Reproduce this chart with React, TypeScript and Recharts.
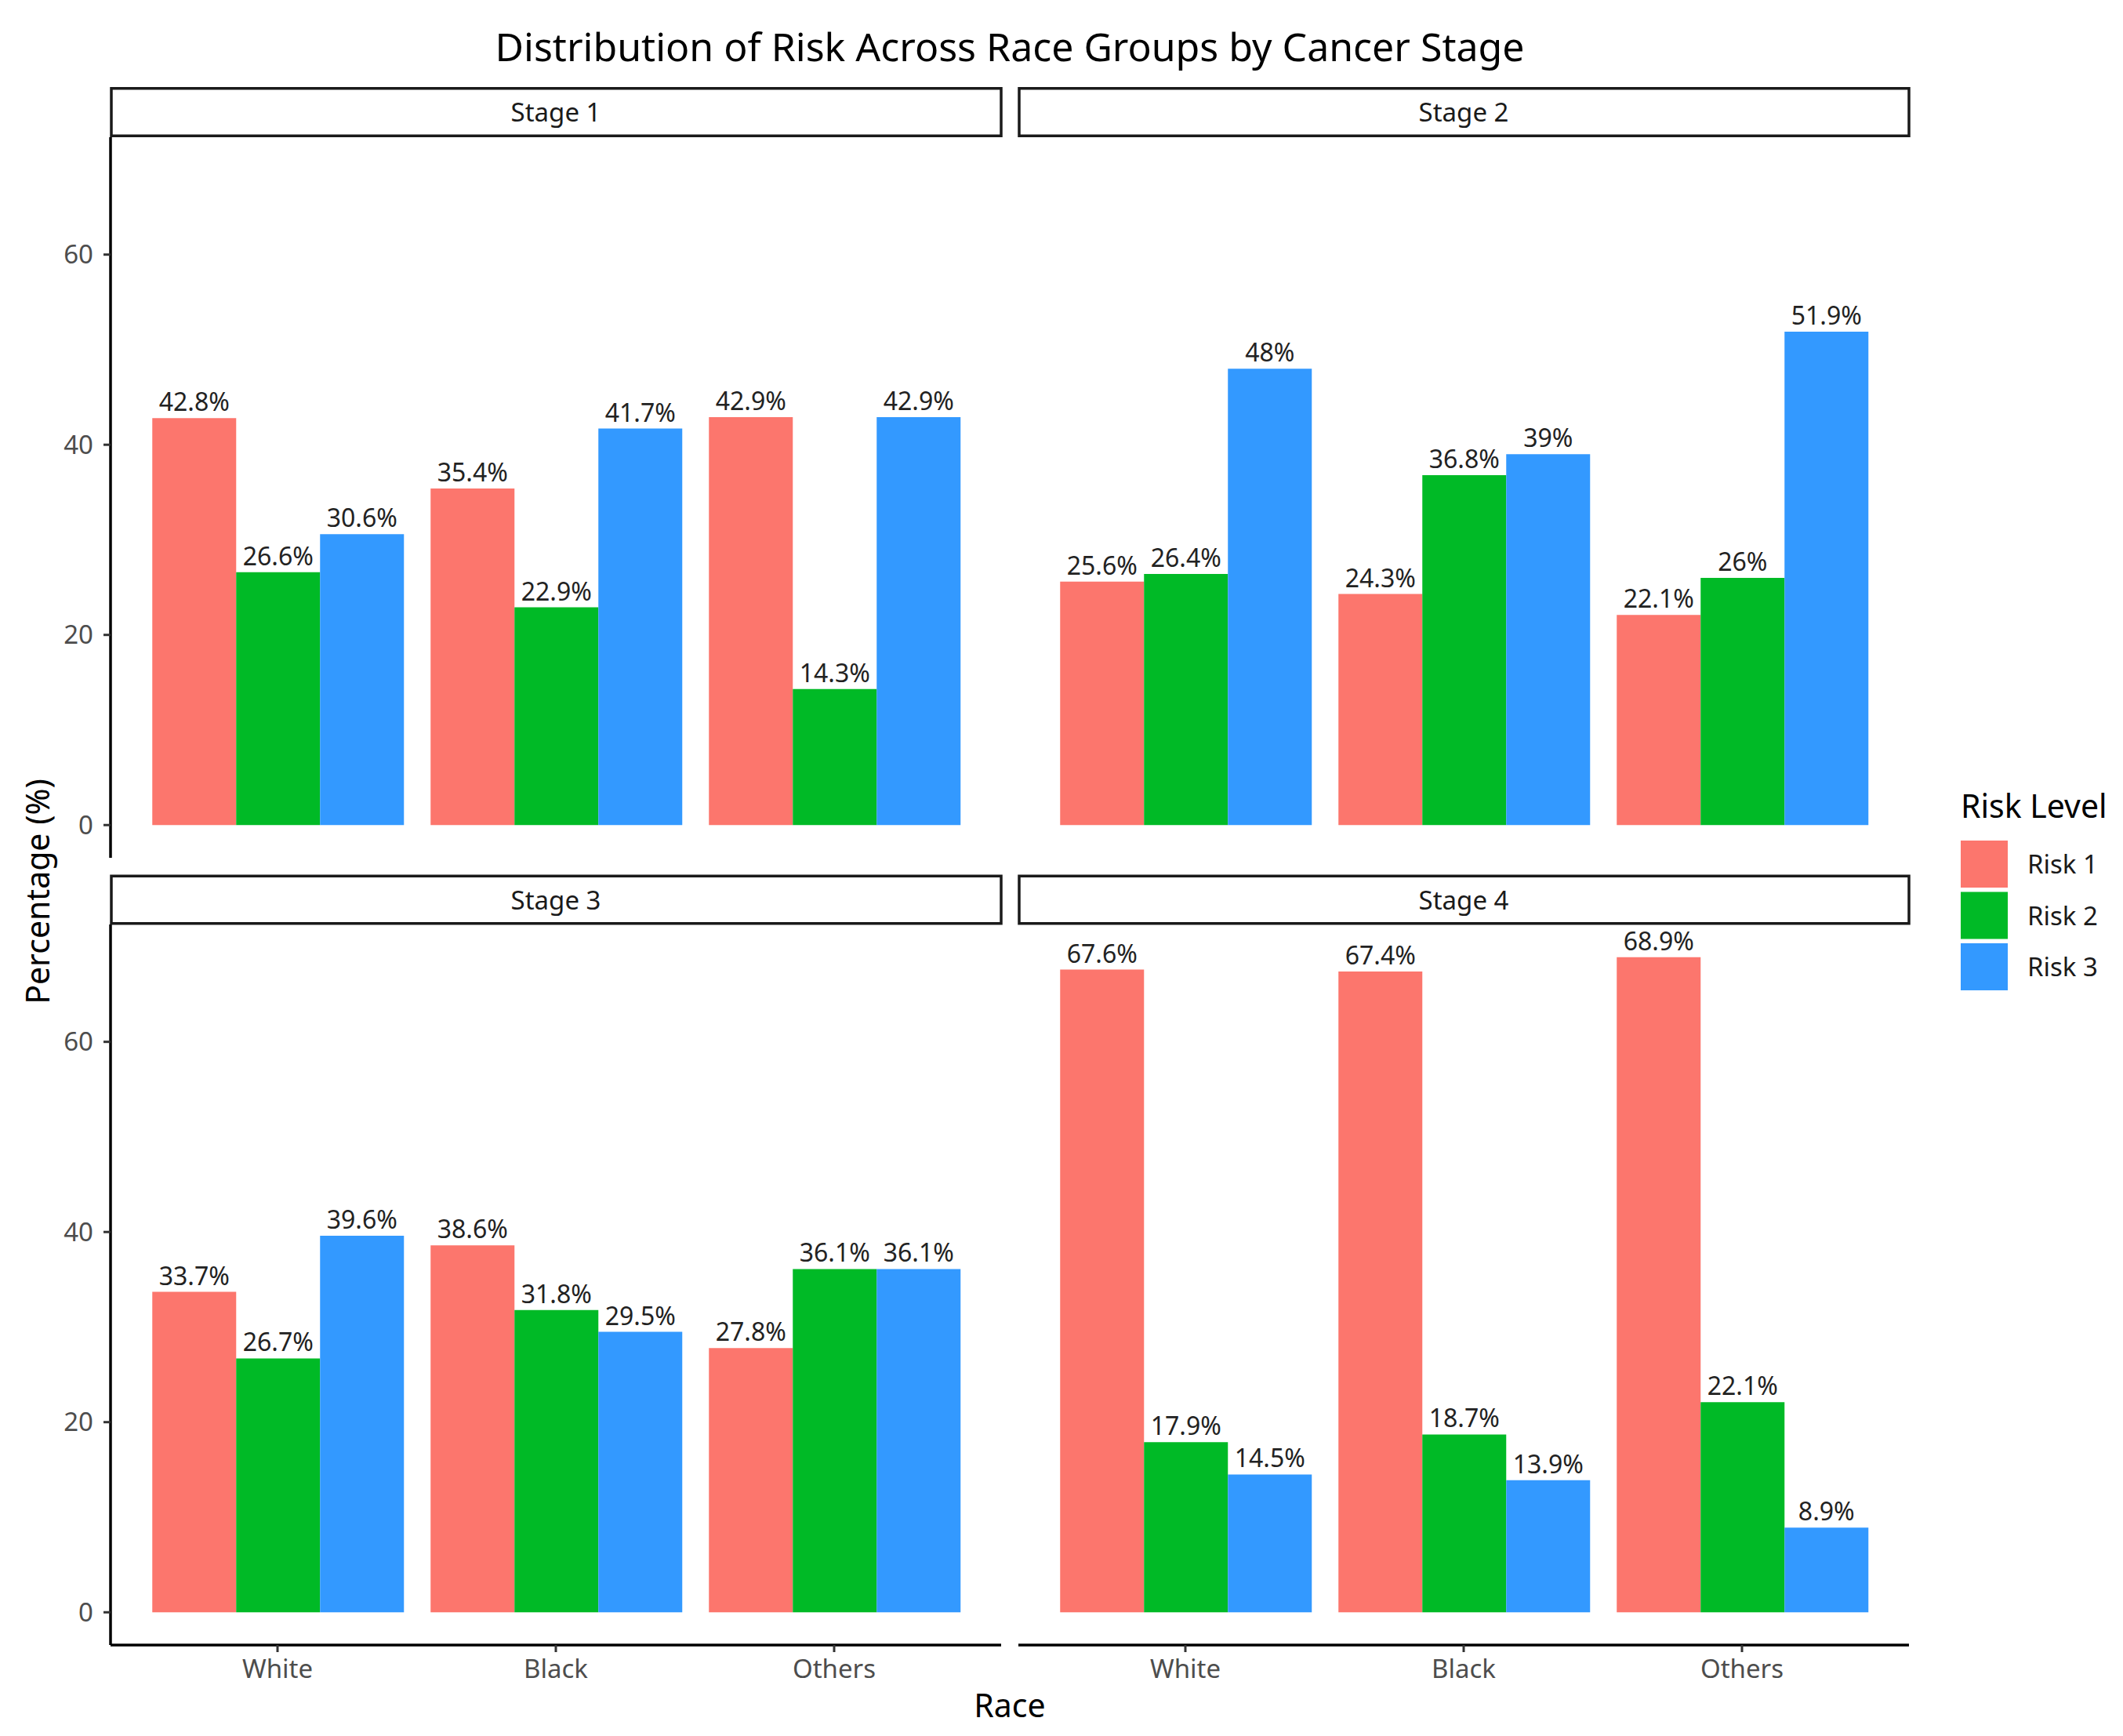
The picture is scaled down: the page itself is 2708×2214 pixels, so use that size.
import React from 'react';
import { BarChart, Bar, XAxis, YAxis, LabelList } from 'recharts';

// ---------- data ----------
const races = ['White', 'Black', 'Others'];
const riskLevels = ['Risk 1', 'Risk 2', 'Risk 3'];
const stageNames = ['Stage 1', 'Stage 2', 'Stage 3', 'Stage 4'];

const stage1Risk1 = [42.8, 35.4, 42.9];
const stage1Risk2 = [26.6, 22.9, 14.3];
const stage1Risk3 = [30.6, 41.7, 42.9];

const stage2Risk1 = [25.6, 24.3, 22.1];
const stage2Risk2 = [26.4, 36.8, 26];
const stage2Risk3 = [48, 39, 51.9];

const stage3Risk1 = [33.7, 38.6, 27.8];
const stage3Risk2 = [26.7, 31.8, 36.1];
const stage3Risk3 = [39.6, 29.5, 36.1];

const stage4Risk1 = [67.6, 67.4, 68.9];
const stage4Risk2 = [17.9, 18.7, 22.1];
const stage4Risk3 = [14.5, 13.9, 8.9];

const yTicks = [0, 20, 40, 60];
const yDomain: [number, number] = [-3.445, 72.345];

// ---------- style ----------
const riskColors = ['#FC766D', '#00BA26', '#3399FF'];
const riskKeys = ['r1', 'r2', 'r3'];
const FONT = '"Noto Sans", "DejaVu Sans", sans-serif';

const PLOT_W = 1136;
const PLOT_H = 919;
const Y_AXIS_W = 141;
const X_AXIS_H = 80;
const LEFT_X = 141;
const RIGHT_X = 1299;
const TOP_Y = 175;
const BOTTOM_Y = 1179;

function buildRows(r1: number[], r2: number[], r3: number[]) {
  return races.map((race, i) => ({ race, r1: r1[i], r2: r2[i], r3: r3[i] }));
}

const stageRows = [
  buildRows(stage1Risk1, stage1Risk2, stage1Risk3),
  buildRows(stage2Risk1, stage2Risk2, stage2Risk3),
  buildRows(stage3Risk1, stage3Risk2, stage3Risk3),
  buildRows(stage4Risk1, stage4Risk2, stage4Risk3),
];

function Panel({ rows, plotLeft, plotTop, showY, showX }: any) {
  const w = PLOT_W + (showY ? Y_AXIS_W : 0);
  const h = PLOT_H + (showX ? X_AXIS_H : 0);
  const pad = PLOT_W * 0.03125;
  return (
    <div style={{ position: 'absolute', left: plotLeft - (showY ? Y_AXIS_W : 0), top: plotTop, width: w, height: h }}>
      <BarChart
        width={w}
        height={h}
        data={rows}
        margin={{ top: 0, right: 0, bottom: 0, left: 0 }}
        barCategoryGap="5%"
        barGap={0}
      >
        <XAxis
          dataKey="race"
          hide={!showX}
          height={X_AXIS_H}
          padding={{ left: pad, right: pad }}
          axisLine={{ stroke: '#000', strokeWidth: 3.5 }}
          tickLine={{ stroke: '#333', strokeWidth: 3 }}
          tickSize={9}
          tickMargin={10}
          tick={{ fill: '#4D4D4D', fontSize: 33, fontFamily: FONT }}
          interval={0}
        />
        <YAxis
          type="number"
          hide={!showY}
          width={Y_AXIS_W}
          domain={yDomain}
          ticks={yTicks}
          allowDataOverflow
          axisLine={{ stroke: '#000', strokeWidth: 3.5 }}
          tickLine={{ stroke: '#333', strokeWidth: 3 }}
          tickSize={9}
          tickMargin={13}
          tick={{ fill: '#4D4D4D', fontSize: 33, fontFamily: FONT }}
        />
        {riskKeys.map((k, i) => (
          <Bar key={k} dataKey={k} name={riskLevels[i]} fill={riskColors[i]} isAnimationActive={false}>
            <LabelList
              dataKey={k}
              position="top"
              offset={9}
              formatter={(v: any) => `${v}%`}
              fill="#222222"
              fontSize={32}
              fontFamily={FONT}
            />
          </Bar>
        ))}
      </BarChart>
    </div>
  );
}

function Strip({ x, y, label }: any) {
  return (
    <g>
      <rect x={x + 1} y={y + 1.75} width={PLOT_W - 1} height={60.5} fill="#fff" stroke="#1A1A1A" strokeWidth={3.5} />
      <text x={x + PLOT_W / 2} y={y + 44} textAnchor="middle" fontSize={33} fill="#1A1A1A" fontFamily={FONT}>
        {label}
      </text>
    </g>
  );
}

export default function App() {
  const panels = [
    { rows: stageRows[0], plotLeft: LEFT_X, plotTop: TOP_Y, showY: true, showX: false },
    { rows: stageRows[1], plotLeft: RIGHT_X, plotTop: TOP_Y, showY: false, showX: false },
    { rows: stageRows[2], plotLeft: LEFT_X, plotTop: BOTTOM_Y, showY: true, showX: true },
    { rows: stageRows[3], plotLeft: RIGHT_X, plotTop: BOTTOM_Y, showY: false, showX: true },
  ];
  const stripYs = [111, 111, 1115.5, 1115.5];
  const legendTop = 1072;
  return (
    <div style={{ position: 'absolute', left: 0, top: 0, width: 2708, height: 2214, background: '#fff', overflow: 'hidden' }}>
      {panels.map((p, i) => (
        <Panel key={i} {...p} />
      ))}
      <svg
        width={2708}
        height={2214}
        style={{ position: 'absolute', left: 0, top: 0, pointerEvents: 'none' }}
      >
        <text x={1288} y={78} textAnchor="middle" fontSize={50} fill="#000" fontFamily={FONT}>
          Distribution of Risk Across Race Groups by Cancer Stage
        </text>
        {panels.map((p, i) => (
          <Strip key={i} x={p.plotLeft} y={stripYs[i]} label={stageNames[i]} />
        ))}
        <text
          transform="translate(63,1137) rotate(-90)"
          textAnchor="middle"
          fontSize={41}
          fill="#000"
          fontFamily={FONT}
        >
          Percentage (%)
        </text>
        <text x={1288} y={2190} textAnchor="middle" fontSize={41} fill="#000" fontFamily={FONT}>
          Race
        </text>
        <text x={2501} y={1043} fontSize={41} fill="#000" fontFamily={FONT}>
          Risk Level
        </text>
        {riskLevels.map((r, i) => (
          <g key={r}>
            <rect x={2501} y={legendTop + i * 65.5} width={60} height={60} fill={riskColors[i]} />
            <text x={2586} y={legendTop + i * 65.5 + 42} fontSize={33} fill="#1A1A1A" fontFamily={FONT}>
              {r}
            </text>
          </g>
        ))}
      </svg>
    </div>
  );
}
